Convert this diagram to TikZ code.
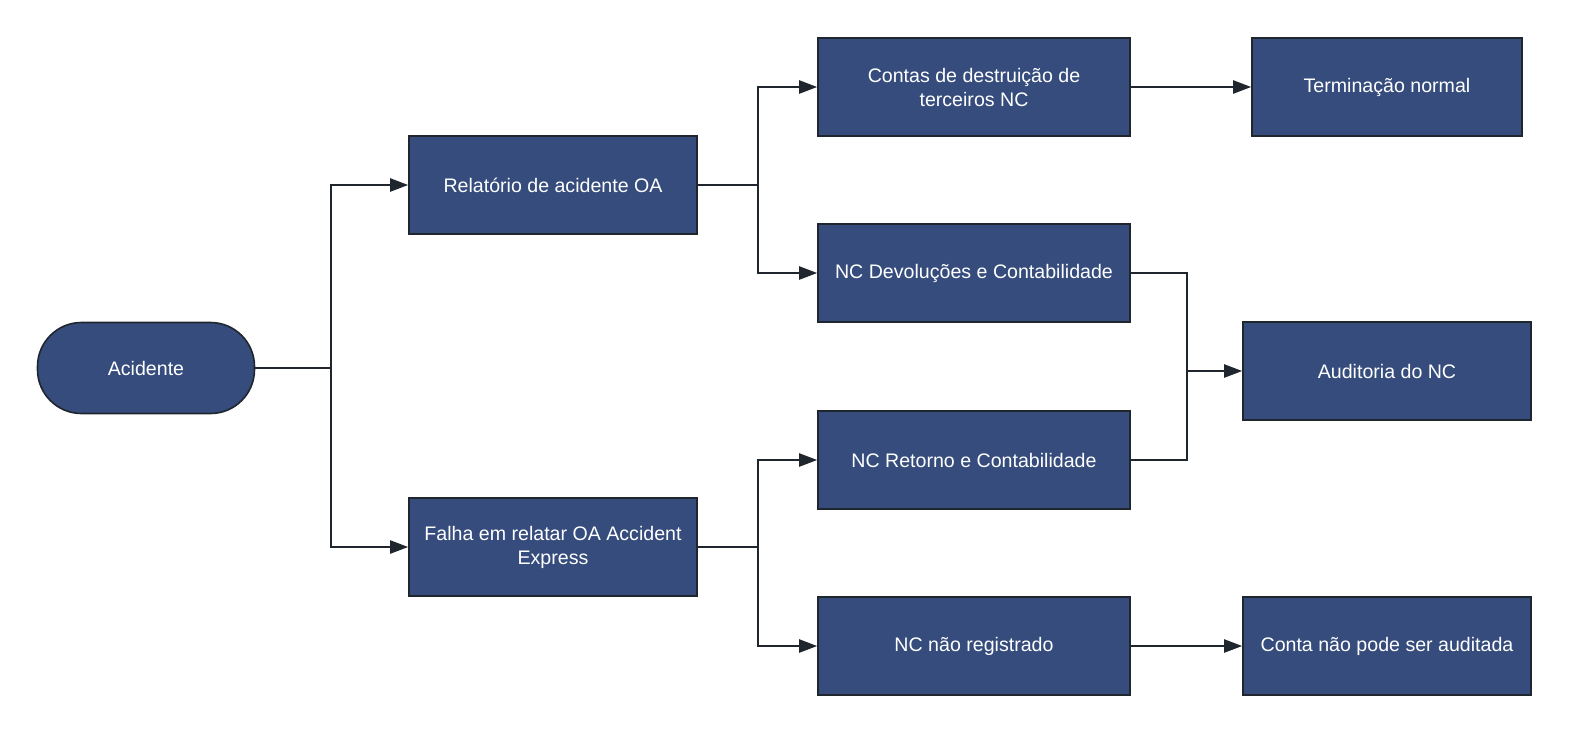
\documentclass[tikz,border=0pt]{standalone}
\usepackage{fontspec}
\setmainfont{Liberation Sans}
\usetikzlibrary{arrows.meta}

\definecolor{boxblue}{HTML}{354C7C}
\definecolor{edgedark}{HTML}{1F262E}

\begin{document}
\begin{tikzpicture}[x = 0.5pt, y = -0.5pt, > = {Triangle[length=9pt, width=6.5pt]},
    procbox/.style = {draw = edgedark, line width = 0.8pt, fill = boxblue,
        text = white, font = \fontsize{9.8pt}{12pt}\selectfont, align = center,
        minimum height = 49pt, inner sep = 0pt},
    link/.style = {draw = edgedark, line width = 1.1pt}]

        % Fix the page size to the reference.
        \useasboundingbox (0, 0) rectangle (1575, 735);

        % Start node on the left.
        \node[procbox, rounded corners = 22pt, minimum width = 108.5pt,
            minimum height = 45.5pt] (acid) at (146, 368) {Acidente};

        % Second column.
        \node[procbox, minimum width = 144pt] (rel) at (553, 185) {Relatório de acidente OA};
        \node[procbox, minimum width = 144pt] (falha) at (553, 547) {Falha em relatar OA Accident\\Express};

        % Third column.
        \node[procbox, minimum width = 156pt] (contas) at (974, 87) {Contas de destruição de\\terceiros NC};
        \node[procbox, minimum width = 156pt] (devol) at (974, 273) {NC Devoluções e Contabilidade};
        \node[procbox, minimum width = 156pt] (retorno) at (974, 460) {NC Retorno e Contabilidade};
        \node[procbox, minimum width = 156pt] (naoreg) at (974, 646) {NC não registrado};

        % Last column.
        \node[procbox, minimum width = 135pt] (term) at (1387, 87) {Terminação normal};
        \node[procbox, minimum width = 144pt] (audit) at (1387, 371) {Auditoria do NC};
        \node[procbox, minimum width = 144pt] (conta) at (1387, 646) {Conta não pode ser auditada};

        % Branch points.
        \coordinate (J1) at (331, 368);
        \coordinate (J2) at (758, 185);
        \coordinate (J3) at (758, 547);
        \coordinate (J4) at (1187, 371);

        % From the accident to the two reports.
        \draw[link, ->] (acid.east) -- (J1) |- (rel.west);
        \draw[link, ->] (J1) |- (falha.west);

        % Reported accident splits in two.
        \draw[link, ->] (rel.east) -- (J2) |- (contas.west);
        \draw[link, ->] (J2) |- (devol.west);

        % Unreported accident splits in two.
        \draw[link, ->] (falha.east) -- (J3) |- (retorno.west);
        \draw[link, ->] (J3) |- (naoreg.west);

        % Both accountings go to the audit.
        \draw[link] (devol.east) -| (J4);
        \draw[link] (retorno.east) -| (J4);
        \draw[link, ->] (J4) -- (audit.west);

        % Straight arrows to the ends.
        \draw[link, ->] (contas) -- (term);
        \draw[link, ->] (naoreg) -- (conta);
    \end{tikzpicture}
\end{document}
